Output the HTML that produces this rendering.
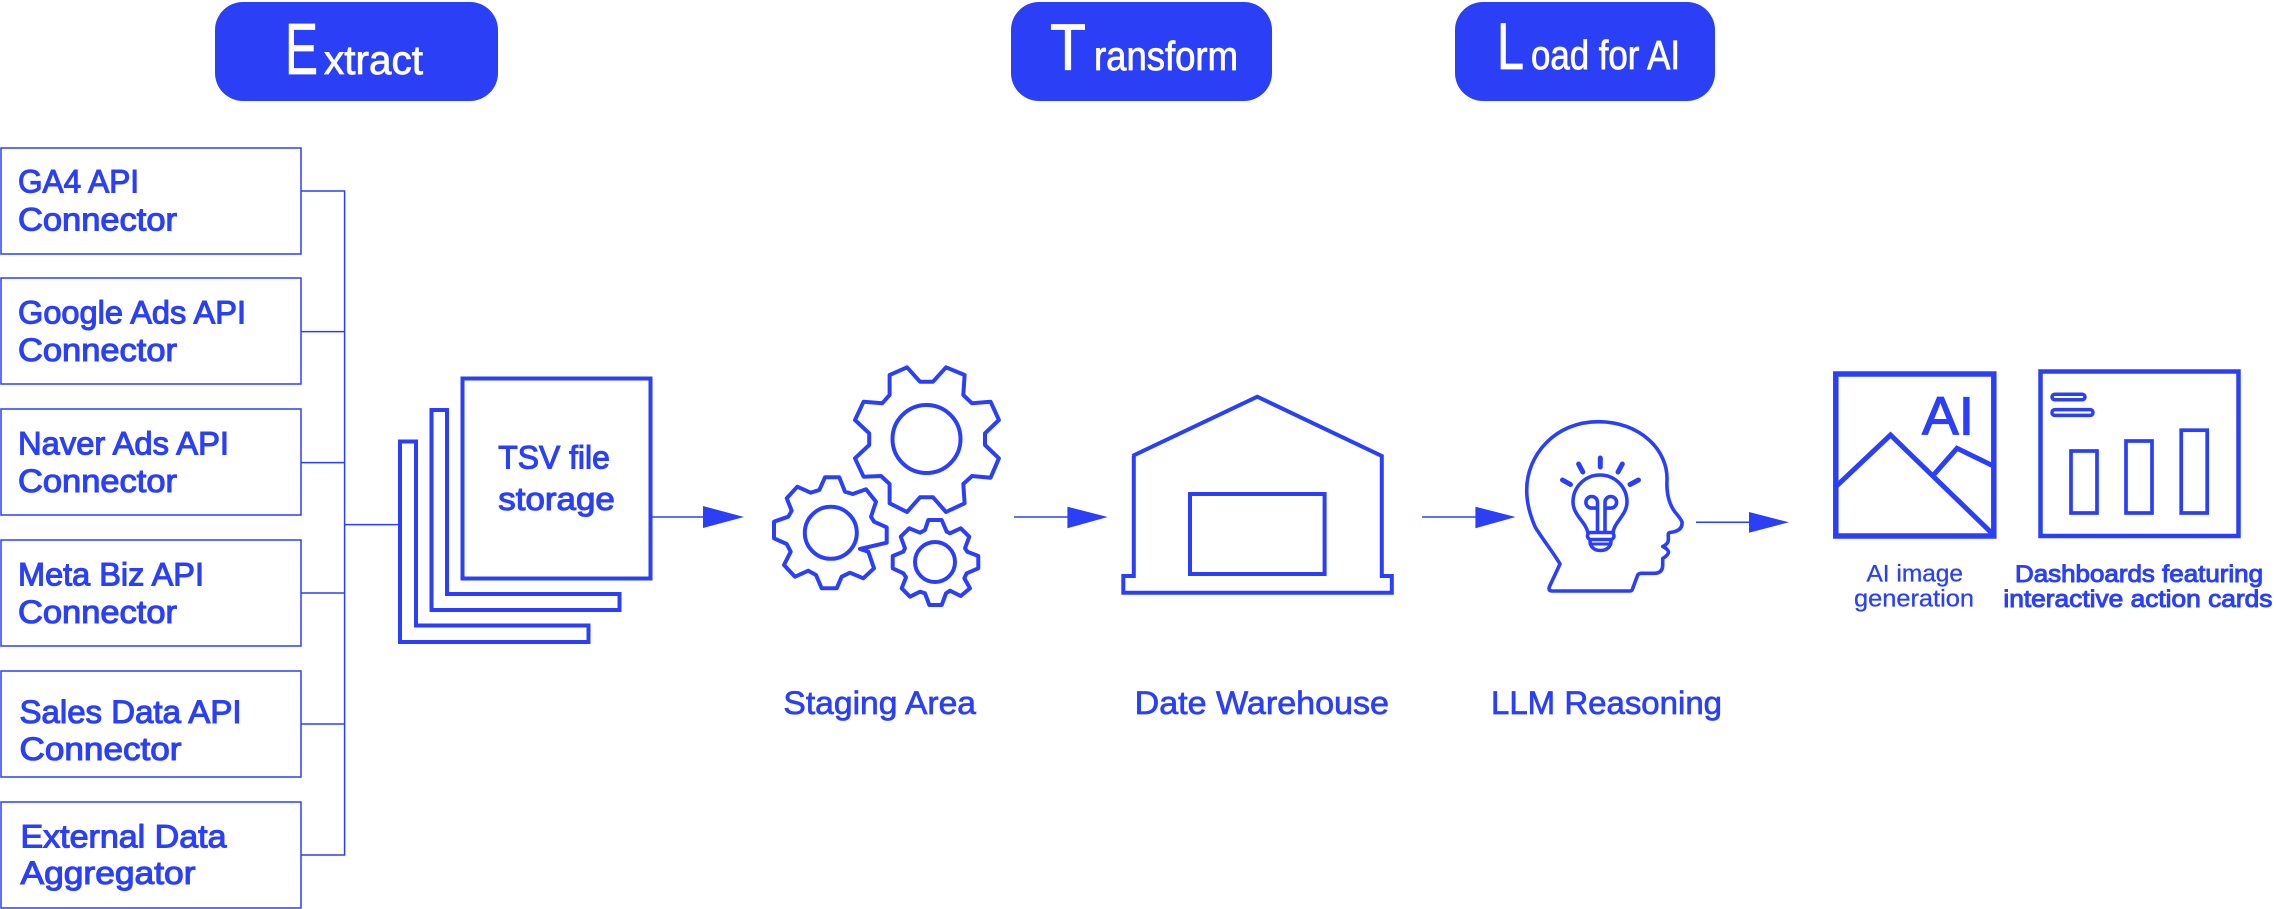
<!DOCTYPE html>
<html><head><meta charset="utf-8"><style>
html,body{margin:0;padding:0;background:#fff}
svg{display:block}
text{font-family:"Liberation Sans",sans-serif}
.b{font-size:32px;fill:#2b40f6;stroke:#2b40f6;stroke-width:1.1px}
.m{font-size:32px;fill:#2b40f6;stroke:#2b40f6;stroke-width:.7px}
.s{font-size:24px;fill:#2b40f6;stroke:#2b40f6;stroke-width:.3px}
.sb{font-size:24px;fill:#2b40f6;stroke:#2b40f6;stroke-width:1px}
.w{fill:#fff;stroke:#fff;stroke-width:.8px}
.o{fill:none;stroke:#2b40f6;stroke-width:4}
.t{fill:none;stroke:#2b40f6;stroke-width:1.5}
.a{fill:#2b40f6}
</style></head><body>
<svg width="2276" height="909" viewBox="0 0 2276 909" xmlns="http://www.w3.org/2000/svg">
<rect width="2276" height="909" fill="#fff"/>
<rect class="a" x="215" y="2" width="283" height="99" rx="28"/>
<rect class="a" x="1011" y="2" width="261" height="99" rx="28"/>
<rect class="a" x="1455" y="2" width="260" height="99" rx="28"/>
<text class="w" x="285" y="74" font-size="72" textLength="33" lengthAdjust="spacingAndGlyphs">E</text>
<text class="w" x="324" y="74" font-size="41" textLength="99" lengthAdjust="spacingAndGlyphs">xtract</text>
<text class="w" x="1050" y="70" font-size="66" textLength="36" lengthAdjust="spacingAndGlyphs">T</text>
<text class="w" x="1094" y="70" font-size="41" textLength="144" lengthAdjust="spacingAndGlyphs">ransform</text>
<text class="w" x="1497" y="69" font-size="66" textLength="27" lengthAdjust="spacingAndGlyphs">L</text>
<text class="w" x="1531" y="69" font-size="41" textLength="149" lengthAdjust="spacingAndGlyphs">oad for AI</text>

<g class="t">
<rect x="1" y="148" width="300" height="106"/>
<rect x="1" y="278" width="300" height="106"/>
<rect x="1" y="409" width="300" height="106"/>
<rect x="1" y="540" width="300" height="106"/>
<rect x="1" y="671" width="300" height="106"/>
<rect x="1" y="802" width="300" height="106"/>
<path d="M301 191H344.6V855H301M301 331.6H344.6M301 462.6H344.6M301 593H344.6M301 724H344.6M344.6 524.6H399"/>
</g>
<text class="b" x="18" y="192.5" textLength="121" lengthAdjust="spacingAndGlyphs">GA4 API</text>
<text class="b" x="18" y="230.5" textLength="159" lengthAdjust="spacingAndGlyphs">Connector</text>
<text class="b" x="18" y="323.5" textLength="228" lengthAdjust="spacingAndGlyphs">Google Ads API</text>
<text class="b" x="18" y="361" textLength="159" lengthAdjust="spacingAndGlyphs">Connector</text>
<text class="b" x="18" y="454.5" textLength="211" lengthAdjust="spacingAndGlyphs">Naver Ads API</text>
<text class="b" x="18" y="492" textLength="159" lengthAdjust="spacingAndGlyphs">Connector</text>
<text class="b" x="18" y="585.5" textLength="186" lengthAdjust="spacingAndGlyphs">Meta Biz API</text>
<text class="b" x="18" y="623" textLength="159" lengthAdjust="spacingAndGlyphs">Connector</text>
<text class="b" x="19.5" y="723" textLength="222" lengthAdjust="spacingAndGlyphs">Sales Data API</text>
<text class="b" x="19.5" y="760" textLength="162" lengthAdjust="spacingAndGlyphs">Connector</text>
<text class="b" x="20.5" y="847.5" textLength="206" lengthAdjust="spacingAndGlyphs">External Data</text>
<text class="b" x="20.5" y="884" textLength="175" lengthAdjust="spacingAndGlyphs">Aggregator</text>

<g class="o">
<rect x="462.5" y="378.5" width="188" height="200"/>
<path d="M447 594V410H431.5V610H619.5V594Z"/>
<path d="M416 625.5V441.5H400V642H588.5V625.5Z"/>
</g>
<text class="b" x="498.3" y="468.5" textLength="111.5" lengthAdjust="spacingAndGlyphs">TSV file</text>
<text class="b" x="498.3" y="510" textLength="116.5" lengthAdjust="spacingAndGlyphs">storage</text>
<path class="t" d="M651 517H703"/><path class="a" d="M703 506V528L744 517Z"/>

<g class="o" stroke-linejoin="round">
<path d="M889.6 375L907 367.3L920 381.7H933L946 367.3L964.6 375L963.3 395L972 403.3L990.6 401.7L998.9 420L985 433.3V445L998.9 458.3L990.6 477.7L972 476L963.3 484L964.6 503.3L946 512L933 497.3H920L907 512L889.6 503.3V484L881 476L863.6 476.7L855 458.3L869.2 445V433.3L855 420L863.6 401.7L882.2 403.3L889.6 395Z"/>
<circle cx="926.5" cy="439" r="34"/>
<path d="M825 477.3H839.3L845 491.7L852.7 494L866 489.3L876 501.7L871 516.7L874 521.7L886.7 527.3V542.7L860 549L868.3 551.700L874 568.3L863.3 578.3L850 572.7L841.700 576.7L836.7 588.3H821.7L816 575L808.3 570.7L795 576.7L784 565L790.7 551.7L786.7 544L774 538.3V521.7L788.3 516.7L791.7 510.7L786.7 498.3L797.3 486.7L810.7 492.7L819.3 490Z"/>
<circle cx="830.8" cy="532.8" r="26"/>
<path d="M928.3 520H941.7L946.7 531.7L950 533.3L960.7 528.3L969.3 536.7L965 548.3L967.3 551.7L978.3 556V568.3L966.7 573.3L964.3 578.3L970 588.3L960.7 596L950 590.7L946 593.3L941.7 605H929.3L925 593.3L920 591.7L910 596.7L901.7 588.3L906 577.3L903.3 573.3L892.7 568.3V556L903.3 551.7L905 548.3L900.7 536.7L909.3 528.3L920 532.7L925 530Z"/>
<circle cx="935" cy="562" r="20"/>
</g>
<path class="t" d="M1014 517H1068"/><path class="a" d="M1067.4 506.7V528.3L1107.7 517Z"/>

<path class="o" stroke-width="4.2" d="M1132.4 456L1257.3 396.7L1381.8 456V576H1391.8V592.7H1123.3V576H1133.8V456"/>
<rect class="o" x="1190" y="494" width="134.6" height="80"/>

<text class="m" x="783.4" y="714" textLength="192.6" lengthAdjust="spacingAndGlyphs">Staging Area</text>
<text class="m" x="1134.6" y="714" textLength="254.4" lengthAdjust="spacingAndGlyphs">Date Warehouse</text>
<text class="m" x="1491" y="714" textLength="231" lengthAdjust="spacingAndGlyphs">LLM Reasoning</text>

<path class="t" d="M1422 517H1476"/><path class="a" d="M1475.4 506.7V528.3L1515.6 517Z"/>
<path class="t" d="M1696 522.3H1750"/><path class="a" d="M1749 512V532.7L1789 522.3Z"/>

<g class="o" stroke-linecap="round" stroke-linejoin="round" style="stroke-width:3.6">
<path d="M1560 564L1549.5 586.5Q1548 591 1552 591L1630 591Q1632 591 1632.500 589L1637.500 575.500Q1638.500 573.300 1641 573.300L1654 573.300Q1662.700 573.300 1662.700 565L1662.700 558.500Q1668.500 555 1668.500 552Q1668 549 1662.700 546.500Q1668.300 544 1668.300 540L1668.300 534Q1668.300 533 1670 532.500Q1683 531 1682 522Q1681 519 1675 512Q1666 500 1667 480C1668 450 1640 421.700 1598.300 421.700C1555 421.700 1526.700 455 1526.700 490C1526.700 505 1531 517 1535 526.700C1541 537 1555 555 1560 564Z"/>
<path d="M1588 533C1586 522 1573 515 1573 502A27 27 0 0 1 1627 502C1627 515 1614 522 1613 533"/>
<rect x="1587.500" y="532.500" width="26.500" height="7" rx="3.500"/>
<path d="M1590 540C1590 547 1594 550.500 1600.500 550.500C1607 550.500 1611 547 1611 540"/>
<path d="M1590 544H1611" stroke-width="3"/>
<path d="M1597.500 532V502.300A5.800 5.800 0 1 0 1591.700 508.100H1597.500M1605 532V502.300A5.800 5.800 0 1 1 1610.800 508.100H1605"/>
<path style="stroke-width:5" d="M1600.300 458V467M1578.600 464L1582.800 472M1622.300 464L1618 472M1562.500 480L1570.500 484.500M1638.500 480L1630 484.500"/>
</g>

<g fill="none" stroke="#2b40f6">
<rect x="1835.800" y="374" width="158" height="162" stroke-width="5.500"/>
<path stroke-width="5" d="M1835.800 486.700L1890.500 435L1992 533.300M1933.500 475L1957 448.300L1995 466.700"/>
<rect x="2040.500" y="371.500" width="198" height="164.500" stroke-width="4.500"/>
<rect x="2071" y="451" width="26" height="62" stroke-width="3.700"/>
<rect x="2126" y="441" width="26" height="72" stroke-width="3.700"/>
<rect x="2181.200" y="430.200" width="26" height="82.800" stroke-width="3.700"/>
<rect x="2052" y="394.200" width="33" height="5.600" rx="2.800" stroke-width="3.500"/>
<rect x="2052" y="409.600" width="41" height="5.800" rx="2.800" stroke-width="3.500"/>
</g>
<text x="1922" y="434.300" font-size="54" fill="#2b40f6" stroke="#2b40f6" stroke-width="1.2" textLength="52" lengthAdjust="spacingAndGlyphs">AI</text>

<text class="s" x="1866.500" y="581.700" textLength="96.500" lengthAdjust="spacingAndGlyphs">AI image</text>
<text class="s" x="1854" y="606.700" textLength="120" lengthAdjust="spacingAndGlyphs">generation</text>
<text class="sb" x="2015" y="582" textLength="248" lengthAdjust="spacingAndGlyphs">Dashboards featuring</text>
<text class="sb" x="2003.400" y="607" textLength="269" lengthAdjust="spacingAndGlyphs">interactive action cards</text>
</svg>
</body></html>
